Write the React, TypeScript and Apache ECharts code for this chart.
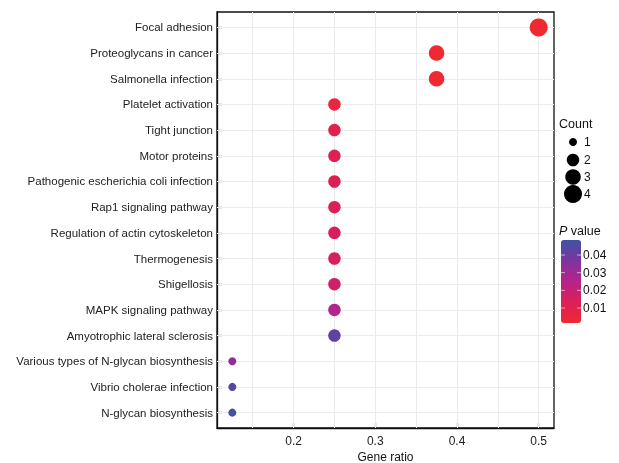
import React, { useEffect, useRef } from "react";
import * as echarts from "echarts";

const categories = [
  "Focal adhesion",
  "Proteoglycans in cancer",
  "Salmonella infection",
  "Platelet activation",
  "Tight junction",
  "Motor proteins",
  "Pathogenic escherichia coli infection",
  "Rap1 signaling pathway",
  "Regulation of actin cytoskeleton",
  "Thermogenesis",
  "Shigellosis",
  "MAPK signaling pathway",
  "Amyotrophic lateral sclerosis",
  "Various types of N-glycan biosynthesis",
  "Vibrio cholerae infection",
  "N-glycan biosynthesis",
];
const geneRatio = [0.5, 0.375, 0.375, 0.25, 0.25, 0.25, 0.25, 0.25, 0.25, 0.25, 0.25, 0.25, 0.25, 0.125, 0.125, 0.125];
const counts = [4, 3, 3, 2, 2, 2, 2, 2, 2, 2, 2, 2, 2, 1, 1, 1];
const pValues = [0.0016, 0.0022, 0.0028, 0.006, 0.010, 0.011, 0.012, 0.013, 0.014, 0.015, 0.017, 0.026, 0.042, 0.033, 0.044, 0.0485];
const xTicks = [0.2, 0.3, 0.4, 0.5];
const xGrid = [0.15, 0.2, 0.25, 0.3, 0.35, 0.4, 0.45, 0.5];
const countLegend = [1, 2, 3, 4];
const pTicks = [0.04, 0.03, 0.02, 0.01];
const pMin = 0.0015;
const pMax = 0.0485;
const gradientColors = ["#EF2A30", "#DB1F58", "#B8228A", "#7D349E", "#3D53A4"];

const sizeFor = (c: number) => [0, 8, 12.5, 15.5, 18][c];

const FONT = "Liberation Sans, Arial, Helvetica, sans-serif";

export default function App() {
  const ref = useRef<HTMLDivElement>(null);
  useEffect(() => {
    if (!ref.current) return;
    const chart = echarts.init(ref.current, undefined, { renderer: "svg" });

    const barTop = 240;
    const barH = 83;
    const barLeft = 561;
    const barW = 20;
    const pToY = (p: number) => barTop + ((pMax - p) / (pMax - pMin)) * barH;

    const legendYs = [142, 160, 177, 194];
    const graphic: any[] = [
      {
        type: "text",
        left: 559,
        top: 117,
        style: { text: "Count", fontSize: 12.5, fontFamily: FONT, fill: "#111" },
      },
      ...countLegend.map((c, i) => ({
        type: "circle",
        shape: { cx: 573, cy: legendYs[i], r: sizeFor(c) / 2 },
        style: { fill: "#000" },
      })),
      ...countLegend.map((c, i) => ({
        type: "text",
        x: 584,
        y: legendYs[i],
        style: { text: String(c), fontSize: 12, fontFamily: FONT, fill: "#111", verticalAlign: "middle" },
      })),
      {
        type: "text",
        x: 559,
        y: 231,
        style: {
          text: "{i|P} value",
          fontSize: 12.5,
          fontFamily: FONT,
          fill: "#111",
          verticalAlign: "middle",
          rich: { i: { fontStyle: "italic", fontSize: 12.5, fontFamily: FONT, fill: "#111" } },
        },
      },
      ...pTicks.map((p) => ({
        type: "text",
        x: 583,
        y: pToY(p),
        style: { text: p.toFixed(2), fontSize: 12, fontFamily: FONT, fill: "#111", verticalAlign: "middle" },
      })),
      ...pTicks.map((p) => ({
        type: "line",
        z: 100,
        shape: { x1: barLeft, y1: pToY(p), x2: barLeft + 4, y2: pToY(p) },
        style: { stroke: "rgba(255,255,255,0.6)", lineWidth: 1 },
      })),
      ...pTicks.map((p) => ({
        type: "line",
        z: 100,
        shape: { x1: barLeft + barW - 4, y1: pToY(p), x2: barLeft + barW, y2: pToY(p) },
        style: { stroke: "rgba(255,255,255,0.6)", lineWidth: 1 },
      })),
    ];

    const yIdx = categories.map((_, i) => i);
    const data = categories.map((c, i) => ({
      name: c,
      value: [geneRatio[i], i, counts[i], pValues[i]],
    }));

    chart.setOption({
      animation: false,
      textStyle: { fontFamily: FONT },
      grid: {
        left: 217,
        right: 65,
        top: 12,
        bottom: 35,
        show: true,
        borderColor: "#111",
        borderWidth: 1.3,
        backgroundColor: "transparent",
        containLabel: false,
        outerBoundsMode: "none",
      },
      xAxis: {
        type: "value",
        min: 0.10625,
        max: 0.51875,
        name: "Gene ratio",
        nameLocation: "middle",
        nameGap: 23,
        nameMoveOverlap: false,
        nameTextStyle: { fontSize: 12, color: "#111", fontFamily: FONT },
        axisLine: { show: true, onZero: false, lineStyle: { color: "#111", width: 1.3 } },
        splitLine: { show: false },
        axisTick: { show: true, inside: true, length: 5, customValues: xTicks, lineStyle: { color: "#111", width: 1.2 } },
        axisLabel: {
          customValues: xTicks,
          formatter: (v: number) => v.toFixed(1),
          fontSize: 12,
          color: "#222",
          margin: 7,
          fontFamily: FONT,
        },
      },
      yAxis: {
        type: "value",
        min: -0.6,
        max: categories.length - 1 + 0.6,
        inverse: true,
        axisLine: { show: true, onZero: false, lineStyle: { color: "#111", width: 1.3 } },
        splitLine: { show: false },
        axisTick: { show: true, inside: true, length: 5, customValues: yIdx, lineStyle: { color: "#111", width: 1.2 } },
        axisLabel: {
          customValues: yIdx,
          formatter: (v: number) => categories[Math.round(v)] ?? "",
          fontSize: 11.5,
          color: "#222",
          margin: 4,
          fontFamily: FONT,
        },
      },
      visualMap: {
        type: "continuous",
        dimension: 3,
        seriesIndex: 1,
        min: pMin,
        max: pMax,
        show: true,
        calculable: false,
        left: barLeft,
        top: barTop,
        itemWidth: barW,
        itemHeight: barH,
        padding: 0,
        text: ["", ""],
        showLabel: false,
        inRange: { color: gradientColors },
      },
      graphic,
      series: [
        {
          type: "scatter",
          data: [],
          z: 1,
          silent: true,
          markLine: {
            silent: true,
            z: 1,
            symbol: "none",
            label: { show: false },
            lineStyle: { color: "#EBEBEB", width: 1, type: "solid" },
            data: [
              ...xGrid.map((v) => ({ xAxis: v })),
              ...yIdx.map((v) => ({ yAxis: v })),
            ],
          },
        },
        {
          type: "scatter",
          z: 10,
          data,
          symbolSize: (v: any[]) => sizeFor(v[2]),
          itemStyle: { opacity: 1 },
        },
      ],
    });
    return () => chart.dispose();
  }, []);
  return (
    <div
      ref={ref}
      style={{ position: "fixed", left: 0, top: 0, width: 619, height: 463 }}
    />
  );
}
